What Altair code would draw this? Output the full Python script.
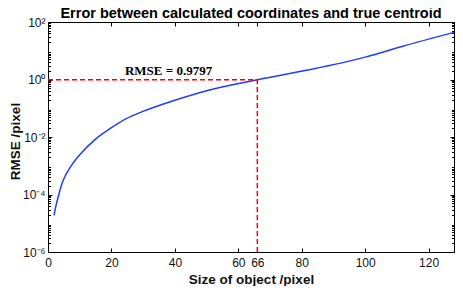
import altair as alt
import pandas as pd

# ---- data ----
size_px = [1.9, 2.5, 3.1, 4.6, 7.2, 10.3, 14.9, 19.4, 24.4, 29.7, 40, 50.3, 66, 82.7, 100, 111.6, 128]
rmse = [1.9e-5, 4.0e-5, 7.4e-5, 2.75e-4, 9.5e-4, 2.63e-3, 8.3e-3, 1.9e-2, 4.17e-2, 7.6e-2,
        0.19, 0.417, 0.9797, 2.21, 6.0, 14.1, 43.6]

x_ticks = [0, 20, 40, 60, 66, 80, 100, 120]
y_ticks = [1e-6, 1e-4, 1e-2, 1, 1e2]
y_tick_labels = ['10⁻⁶', '10⁻⁴', '10⁻²', '10⁰', '10²']
y_minor = [m * 10 ** e for e in range(-6, 2) for m in range(2, 10)]

marker_x = 66
marker_rmse = 0.9797
marker_text = 'RMSE = 0.9797'
text_x = 38

title_text = 'Error between calculated coordinates and true centroid'
x_title = 'Size of object /pixel'
y_title = 'RMSE /pixel'

df_line = pd.DataFrame({'size': size_px, 'rmse': rmse})
df_rules = pd.DataFrame({
    'x': [0, marker_x], 'x2': [marker_x, marker_x],
    'y': [marker_rmse, y_ticks[0]], 'y2': [marker_rmse, marker_rmse],
})
df_text = pd.DataFrame({'x': [text_x], 'y': [marker_rmse], 'label': [marker_text]})

label_expr = ''
for v, l in zip(y_ticks[:-1], y_tick_labels[:-1]):
    label_expr += f"datum.value < {v * 10} ? '{l}' : "
label_expr += f"'{y_tick_labels[-1]}'"

xscale = alt.Scale(domain=[0, 128], nice=False, zero=False)
yscale = alt.Scale(type='log', domain=[1e-6, 1e2], nice=False)

FONT = 'Liberation Sans'
INK = '#111111'
W, H = 406, 230

main_x_axis = alt.Axis(orient='bottom', values=x_ticks, ticks=False, domain=False, grid=False,
                       labelPadding=5, labelFont=FONT, labelFontSize=12, labelColor=INK,
                       title=x_title, titleFont=FONT, titleFontSize=13.5, titleFontWeight='bold',
                       titleColor=INK, titleBaseline='alphabetic', titleY=31, labelFlush=False)
main_y_axis = alt.Axis(orient='left', values=y_ticks, labelExpr=label_expr, ticks=False,
                       domain=False, grid=False, labelPadding=3, labelFont=FONT,
                       labelFontSize=12, labelColor=INK, title=y_title, titleFont=FONT,
                       titleFontSize=13.5, titleFontWeight='bold', titleColor=INK,
                       titleX=-33, titleY=119, titleAngle=270, titleAlign='center',
                       titleBaseline='middle', labelFlush=False)

line = alt.Chart(df_line).mark_line(color='#1f3cff', strokeWidth=1.5, interpolate='monotone').encode(
    x=alt.X('size:Q', scale=xscale, axis=main_x_axis),
    y=alt.Y('rmse:Q', scale=yscale, axis=main_y_axis),
)


def tick_axis(orient, values, size):
    return alt.Axis(orient=orient, values=values, tickSize=size, offset=-size, labels=False,
                    domain=False, grid=False, title=None, tickColor='black', tickWidth=1)


def x_tick_layer(orient, values, size):
    return alt.Chart(df_line).mark_line(opacity=0).encode(
        x=alt.X('size:Q', scale=xscale, axis=tick_axis(orient, values, size)),
        y=alt.Y('rmse:Q', scale=yscale, axis=None),
    )


def y_tick_layer(orient, values, size):
    return alt.Chart(df_line).mark_line(opacity=0).encode(
        x=alt.X('size:Q', scale=xscale, axis=None),
        y=alt.Y('rmse:Q', scale=yscale, axis=tick_axis(orient, values, size)),
    )


rules = alt.Chart(df_rules).mark_rule(color='#ff0000', strokeWidth=1.5, strokeDash=[5, 3]).encode(
    x=alt.X('x:Q', scale=xscale, axis=None), x2='x2:Q',
    y=alt.Y('y:Q', scale=yscale, axis=None), y2='y2:Q',
)

text = alt.Chart(df_text).mark_text(font='Liberation Serif', fontSize=13, fontWeight='bold',
                                    color='black', baseline='alphabetic', dy=-5).encode(
    x=alt.X('x:Q', scale=xscale, axis=None),
    y=alt.Y('y:Q', scale=yscale, axis=None),
    text='label:N',
)

chart = alt.layer(
    line,
    x_tick_layer('bottom', x_ticks, 4),
    x_tick_layer('top', x_ticks, 4),
    y_tick_layer('left', y_ticks, 4),
    y_tick_layer('left', y_minor, 2.5),
    y_tick_layer('right', y_ticks, 4),
    y_tick_layer('right', y_minor, 2.5),
    rules,
    text,
).resolve_axis(x='independent', y='independent').properties(
    width=W, height=H,
    title=alt.TitleParams(title_text, font=FONT, fontSize=14.5, fontWeight='bold', color='black',
                          anchor='middle', offset=5, dy=21.5, baseline='alphabetic'),
    autosize=alt.AutoSizeParams(type='none'),
    padding={'left': 40, 'top': 14, 'right': 1, 'bottom': 34},
).configure_view(stroke='black', strokeWidth=1)

chart.save('out.html', embed_options={'renderer': 'svg', 'actions': False})
